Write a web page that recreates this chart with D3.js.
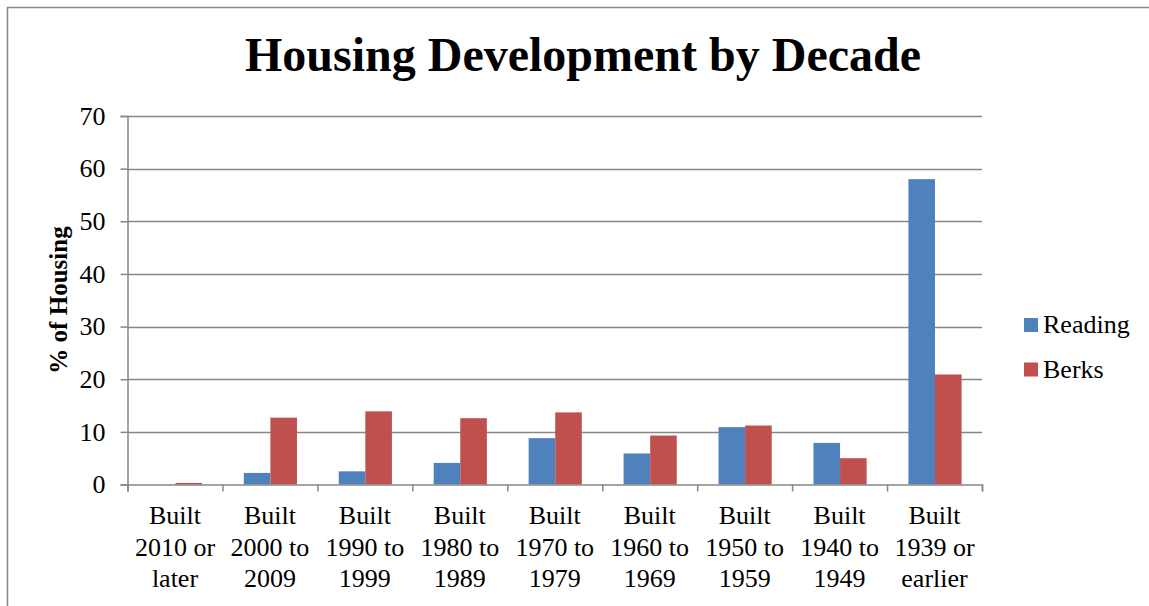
<!DOCTYPE html>
<html>
<head>
<meta charset="utf-8">
<script src="https://cdn.jsdelivr.net/npm/d3@7"></script>
<style>
  body { margin: 0; background: #fff; }
  svg { display: block; }
  text { font-family: "Liberation Serif", "Times New Roman", serif; fill: #000; }
</style>
</head>
<body>
<div id="chart"></div>
<script>
// data
var categories = [
  ['Built', '2010 or', 'later'],
  ['Built', '2000 to', '2009'],
  ['Built', '1990 to', '1999'],
  ['Built', '1980 to', '1989'],
  ['Built', '1970 to', '1979'],
  ['Built', '1960 to', '1969'],
  ['Built', '1950 to', '1959'],
  ['Built', '1940 to', '1949'],
  ['Built', '1939 or', 'earlier']
];
var seriesNames = ['Reading', 'Berks'];
var reading = [0, 2.2, 2.5, 4.1, 8.8, 5.9, 10.9, 7.9, 58.0];
var berks = [0.3, 12.7, 13.9, 12.6, 13.7, 9.3, 11.2, 5.0, 20.9];
var yTicks = [0, 10, 20, 30, 40, 50, 60, 70];
var colors = ['#4F81BD', '#C0504D'];

var W = 1149, H = 606;
var margin = {left: 127.5, right: W - 982, top: 116, bottom: H - 484.5};
var iw = W - margin.left - margin.right;
var ih = H - margin.top - margin.bottom;

var svg = d3.select('#chart').append('svg')
  .attr('width', W)
  .attr('height', H);

// chart area border (runs off the right/bottom edge)
svg.append('rect')
  .attr('x', 7.5).attr('y', 7.5)
  .attr('width', W + 20).attr('height', H + 20)
  .attr('fill', '#fff')
  .attr('stroke', '#888')
  .attr('stroke-width', 1.5);

svg.append('text')
  .attr('x', 583).attr('y', 71)
  .attr('text-anchor', 'middle')
  .style('font-size', '48px')
  .style('font-weight', 'bold')
  .text('Housing Development by Decade');

var g = svg.append('g').attr('transform', 'translate(' + margin.left + ',' + margin.top + ')');

var idx = d3.range(categories.length);
var x0 = d3.scaleBand().domain(idx).range([0, iw]).padding(0);
var bw = x0.bandwidth();
var x1 = d3.scaleBand().domain(seriesNames).range([bw * 0.225, bw * 0.785]);
var y = d3.scaleLinear().domain([0, 70]).range([ih, 0]);

// gridlines
g.append('g').selectAll('line')
  .data(yTicks.filter(function(d){ return d > 0; }))
  .enter().append('line')
  .attr('x1', 0).attr('x2', iw)
  .attr('y1', function(d){ return Math.round(y(d)) + 0.5; })
  .attr('y2', function(d){ return Math.round(y(d)) + 0.5; })
  .attr('stroke', '#868686')
  .attr('stroke-width', 1.5);

// bars
var rows = idx.map(function(i){
  return [{s: 'Reading', v: reading[i], c: colors[0]}, {s: 'Berks', v: berks[i], c: colors[1]}];
});
var grp = g.append('g').selectAll('g')
  .data(rows)
  .enter().append('g')
  .attr('transform', function(d, i){ return 'translate(' + x0(i) + ',0)'; });
grp.selectAll('rect')
  .data(function(d){ return d; })
  .enter().append('rect')
  .attr('x', function(d){ return x1(d.s); })
  .attr('width', x1.bandwidth())
  .attr('y', function(d){ return y(d.v); })
  .attr('height', function(d){ return ih - y(d.v); })
  .attr('fill', function(d){ return d.c; });

// y axis
var yAxis = g.append('g')
  .call(d3.axisLeft(y).tickValues(yTicks).tickSize(7).tickPadding(15));
yAxis.selectAll('text').style('font-size', '26px');
yAxis.selectAll('line, path').attr('stroke', '#868686').attr('stroke-width', 1.5);

// x axis with ticks on the band boundaries
var xb = d3.scaleLinear().domain([0, categories.length]).range([0, iw]);
var xAxis = g.append('g')
  .attr('transform', 'translate(0,' + ih + ')')
  .call(d3.axisBottom(xb).ticks(categories.length).tickSize(7).tickFormat(''));
xAxis.selectAll('line, path').attr('stroke', '#868686').attr('stroke-width', 1.5);

// category labels
var lab = g.append('g').selectAll('text')
  .data(categories)
  .enter().append('text')
  .attr('text-anchor', 'middle')
  .attr('x', function(d, i){ return x0(i) + bw / 2; })
  .attr('y', ih + 39.5)
  .style('font-size', '26px');
lab.selectAll('tspan')
  .data(function(d){ return d; })
  .enter().append('tspan')
  .attr('x', function(){ return this.parentNode.getAttribute('x'); })
  .attr('dy', function(d, i){ return i === 0 ? 0 : 31.5; })
  .text(function(d){ return d; });

// y axis title
svg.append('text')
  .attr('transform', 'translate(67,300) rotate(-90)')
  .attr('text-anchor', 'middle')
  .style('font-size', '25px')
  .style('font-weight', 'bold')
  .text('% of Housing');

// legend
var lg = svg.append('g').selectAll('g')
  .data(seriesNames)
  .enter().append('g')
  .attr('transform', function(d, i){ return 'translate(1024,' + (318 + i * 44.5) + ')'; });
lg.append('rect')
  .attr('width', 14).attr('height', 14)
  .attr('fill', function(d, i){ return colors[i]; });
lg.append('text')
  .attr('x', 19).attr('y', 15)
  .style('font-size', '26px')
  .text(function(d){ return d; });
</script>
</body>
</html>
